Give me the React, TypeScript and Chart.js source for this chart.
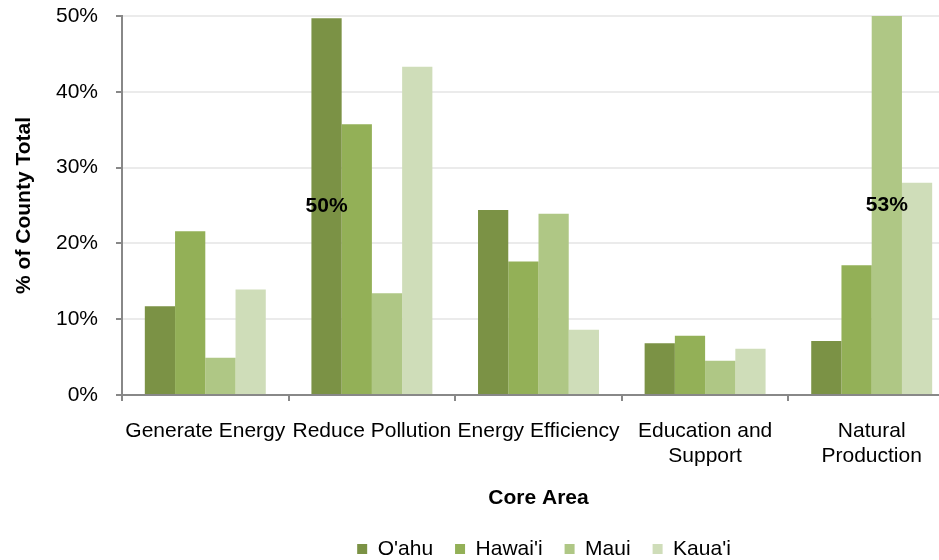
import React, { useEffect, useRef } from "react";
import { Chart, registerables } from "chart.js";

Chart.register(...registerables);

const categories: (string | string[])[] = [
  "Generate Energy",
  "Reduce Pollution",
  "Energy Efficiency",
  ["Education and", "Support"],
  ["Natural", "Production"],
];
const seriesNames = ["O'ahu", "Hawai'i", "Maui", "Kaua'i"];
const oahu = [11.7, 49.7, 24.4, 6.8, 7.1];
const hawaii = [21.6, 35.7, 17.6, 7.8, 17.1];
const maui = [4.9, 13.4, 23.9, 4.5, 53];
const kauai = [13.9, 43.3, 8.6, 6.1, 28.0];
const seriesColors = ["#7B9245", "#93B057", "#AFC785", "#CFDDB9"];
const yTicks = [0, 10, 20, 30, 40, 50];
// bars whose values are called out (series index, category index)
const calloutSeries = [0, 2];
const calloutCategory = [1, 4];

const FONT = "'Liberation Sans', Arial, sans-serif";

const calloutPlugin = {
  id: "callouts",
  afterDatasetsDraw(chart: any) {
    const ctx = chart.ctx;
    const area = chart.chartArea;
    ctx.save();
    ctx.font = `bold 21px ${FONT}`;
    ctx.fillStyle = "#000";
    ctx.textAlign = "center";
    ctx.textBaseline = "middle";
    calloutSeries.forEach((s, i) => {
      const c = calloutCategory[i];
      const meta = chart.getDatasetMeta(s);
      const bar = meta.data[c];
      const v = chart.data.datasets[s].data[c] as number;
      const top = Math.max(bar.y, area.top);
      const yMid = (top + bar.base) / 2;
      ctx.fillText(Math.round(v) + "%", bar.x, yMid);
    });
    ctx.restore();
  },
};

export default function App() {
  const ref = useRef<HTMLCanvasElement | null>(null);
  useEffect(() => {
    if (!ref.current) return;
    const all = [oahu, hawaii, maui, kauai];
    const chart = new Chart(ref.current, {
      type: "bar",
      data: {
        labels: categories as any,
        datasets: all.map((d, i) => ({
          label: seriesNames[i],
          data: d,
          backgroundColor: seriesColors[i],
          borderWidth: 0,
          categoryPercentage: 0.726,
          barPercentage: 1,
        })),
      },
      options: {
        animation: false,
        responsive: false,
        maintainAspectRatio: false,
        layout: { padding: { top: 16, left: 0, right: 0, bottom: 4.5 } },
        plugins: {
          legend: {
            position: "bottom",
            labels: {
              boxWidth: 10,
              boxHeight: 10,
              padding: 22,
              color: "#000",
              font: { family: FONT, size: 21 },
            },
          },
          tooltip: { enabled: false },
        },
        scales: {
          x: {
            grid: {
              display: true,
              drawOnChartArea: false,
              drawTicks: true,
              tickLength: 6,
              tickColor: "#888",
              lineWidth: 2,
              offset: true,
            },
            border: { display: true, color: "#888", width: 2 },
            ticks: {
              color: "#000",
              font: { family: FONT, size: 21 },
              padding: 18,
              maxRotation: 0,
              minRotation: 0,
              autoSkip: false,
            },
            title: {
              display: true,
              text: "Core Area",
              color: "#000",
              font: { family: FONT, size: 21, weight: "bold" },
              padding: { top: -2, bottom: 6 },
            },
          },
          y: {
            min: 0,
            max: 50,
            afterBuildTicks: (s: any) => {
              s.ticks = yTicks.map((v) => ({ value: v }));
            },
            afterFit: (s: any) => {
              s.width = 122;
              s.paddingTop = 0;
              s.paddingBottom = 0;
            },
            grid: {
              color: "#ebebeb",
              lineWidth: 2,
              drawTicks: true,
              tickLength: 6,
              tickColor: "#888",
            },
            border: { display: true, color: "#888", width: 2 },
            ticks: {
              color: "#000",
              font: { family: FONT, size: 21 },
              padding: 18,
              callback: (v: any) => v + "%",
            },
            title: {
              display: true,
              text: "% of County Total",
              color: "#000",
              font: { family: FONT, size: 21, weight: "bold" },
              padding: { top: 11.4, bottom: 19.4 },
            },
          },
          yRight: {
            type: "linear",
            axis: "y",
            position: "right",
            display: true,
            grid: { display: false },
            border: { display: false },
            ticks: { display: false },
            afterFit: (s: any) => {
              s.width = 133;
              s.paddingTop = 0;
              s.paddingBottom = 0;
            },
          },
        },
      } as any,
      plugins: [calloutPlugin],
    });
    return () => chart.destroy();
  }, []);
  return (
    <div
      style={{
        position: "fixed",
        left: 0,
        top: 0,
        width: 939,
        height: 560,
        overflow: "hidden",
        background: "#fff",
      }}
    >
      <canvas
        ref={ref}
        width={1088}
        height={574}
        style={{ position: "absolute", left: 0, top: 0, width: 1088, height: 574 }}
      />
    </div>
  );
}
